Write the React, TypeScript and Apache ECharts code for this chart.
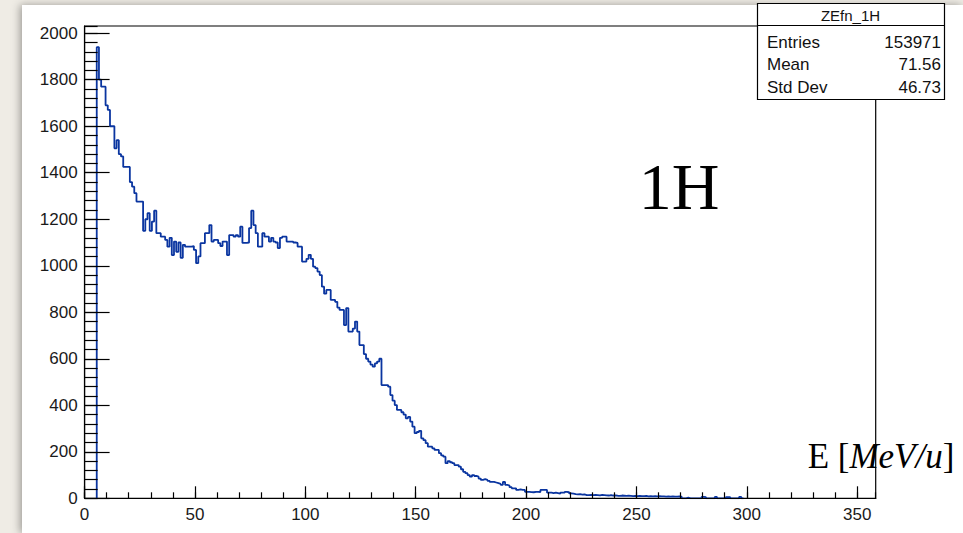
import React, { useEffect, useRef } from "react";
import * as echarts from "echarts";

// Histogram ZEfn_1H: bin counts, bins of width 1 MeV/u starting at 5.5
const binStart = 5.5;
const binWidth = 1;
const counts: number[] = [
  1940, 1800, 1770, 1770, 1690, 1670, 1600, 1600, 1505, 1540, // 5-14
  1480, 1470, 1425, 1425, 1425, 1360, 1340, 1312, 1276, 1276, // 15-24
  1276, 1150, 1200, 1226, 1150, 1190, 1237, 1140, 1140, 1125, // 25-34
  1125, 1111, 1082, 1120, 1046, 1104, 1060, 1100, 1034, 1090, // 35-44
  1082, 1082, 1082, 1085, 1068, 1011, 1040, 1097, 1097, 1140, // 45-54
  1140, 1175, 1104, 1111, 1111, 1097, 1085, 1104, 1104, 1046, // 55-64
  1132, 1132, 1125, 1132, 1125, 1168, 1098, 1098, 1100, 1162, // 65-74
  1237, 1175, 1140, 1082, 1082, 1140, 1125, 1125, 1104, 1120, // 75-84
  1104, 1100, 1076, 1120, 1125, 1125, 1104, 1104, 1104, 1100, // 85-94
  1098, 1082, 1082, 1018, 1018, 1030, 1047, 1030, 996, 990,   // 95-104
  975, 960, 910, 880, 896, 896, 853, 853, 845, 820,           // 105-114
  810, 810, 745, 818, 717, 717, 730, 760, 717, 659,           // 115-124
  659, 620, 600, 588, 575, 566, 580, 588, 600, 487,           // 125-134
  487, 487, 480, 444, 420, 401, 380, 380, 370, 360,           // 135-144
  344, 350, 330, 308, 280, 285, 290, 258, 250, 237,           // 145-154
  222, 222, 215, 208, 208, 194, 185, 179, 151, 160,           // 155-164
  155, 151, 143, 143, 136, 125, 114, 108, 100, 93,            // 165-174
  100, 96, 93, 85, 79, 82, 79, 75, 71, 71,                    // 175-184
  68, 65, 62, 58, 70, 58, 55, 48, 43, 43,                     // 185-194
  36, 38, 36, 36, 28, 28, 27, 26, 28, 28,                     // 195-204
  27, 36, 36, 36, 24, 24, 22, 24, 22, 20,                     // 205-214
  24, 24, 28, 26, 21, 20, 18, 17, 18, 16,                     // 215-224
  17, 14, 14, 15, 14, 15, 14, 13, 15, 14,                     // 225-234
  13, 12, 14, 12, 13, 11, 10, 12, 11, 10,                     // 235-244
  11, 10, 9, 10, 9, 10, 9, 9, 10, 8,                          // 245-254
  9, 8, 9, 8, 9, 8, 8, 7, 8, 7,                               // 255-264
  8, 7, 7, 8, 7, 0, 0, 3, 0, 0,                               // 265-274
  0, 0, 0, 0, 6, 5, 0, 0, 0, 0,                               // 275-284
  6, 0, 0, 0, 0, 5, 5, 0, 0, 0,                               // 285-294
  0, 6, 0,                                                    // 295-297
];

const xTickLabels = [0, 50, 100, 150, 200, 250, 300, 350];
const yTickLabels = [0, 200, 400, 600, 800, 1000, 1200, 1400, 1600, 1800, 2000];

const statsTitle = "ZEfn_1H";
const statsNames = ["Entries", "Mean", "Std Dev"];
const statsValues = ["153971", "71.56", "46.73"];

const xMin = 0;
const xMax = 358.4;
const yMin = 0;
const yMax = 2031;

export default function App() {
  const ref = useRef<HTMLDivElement>(null);

  useEffect(() => {
    if (!ref.current) return;
    const chart = echarts.init(ref.current, undefined, { renderer: "svg" });

    const data: [number, number][] = [];
    data.push([binStart, 0]);
    counts.forEach((c, i) => data.push([binStart + i * binWidth, c]));
    data.push([binStart + counts.length * binWidth, 0]);

    const sans = "'Liberation Sans', Arial, sans-serif";
    const serif = "'Liberation Serif', 'Times New Roman', serif";
    const labelColor = "#1a1a1a";

    const xLabelSet = new Set(xTickLabels);
    const yLabelSet = new Set(yTickLabels);

    const gridLeft = 84.6;
    const gridRight = 87.3;
    const gridTop = 26;
    const gridBottom = 34.7;

    const statsGraphics: any[] = [];
    const boxL = 757, boxR = 944, boxT = 3, boxB = 99, sepY = 25.5;
    statsGraphics.push({
      type: "rect",
      shape: { x: boxL + 0.5, y: boxT + 0.5, width: boxR - boxL, height: boxB - boxT },
      style: { fill: "#fff", stroke: "#000", lineWidth: 1.2 },
      z: 20,
    });
    statsGraphics.push({
      type: "line",
      shape: { x1: boxL, y1: sepY, x2: boxR, y2: sepY },
      style: { stroke: "#000", lineWidth: 1.2 },
      z: 21,
    });
    statsGraphics.push({
      type: "text",
      x: (boxL + boxR) / 2,
      y: 15,
      style: { text: statsTitle, font: `15px ${sans}`, fill: "#111", align: "center", verticalAlign: "middle" },
      z: 22,
    });
    statsNames.forEach((n, i) => {
      const y = 42 + i * 22.5;
      statsGraphics.push({
        type: "text",
        x: 767,
        y,
        style: { text: n, font: `17px ${sans}`, fill: "#111", align: "left", verticalAlign: "middle" },
        z: 22,
      });
      statsGraphics.push({
        type: "text",
        x: 941,
        y,
        style: { text: statsValues[i], font: `17px ${sans}`, fill: "#111", align: "right", verticalAlign: "middle" },
        z: 22,
      });
    });

    chart.setOption({
      animation: false,
      backgroundColor: "#efece5",
      graphic: [
        {
          type: "rect",
          shape: { x: 22, y: 5, width: 963 - 22, height: 533 - 5 },
          style: {
            fill: "#ffffff",
            shadowBlur: 8,
            shadowColor: "rgba(0,0,0,0.35)",
            shadowOffsetX: -2,
            shadowOffsetY: 0,
          },
          z: -10,
          silent: true,
        },
        ...statsGraphics,
        {
          type: "text",
          x: 679,
          y: 186,
          style: { text: "1H", font: `66px ${serif}`, fill: "#000", align: "center", verticalAlign: "middle" },
          z: 22,
        },
        {
          type: "text",
          x: 881,
          y: 456,
          style: {
            text: "{n|E [}{i|MeV}{i|/}{i|u}{n|]}",
            align: "center",
            verticalAlign: "middle",
            fill: "#000",
            rich: {
              n: { fontFamily: serif, fontSize: 35, fill: "#000" },
              i: { fontFamily: serif, fontSize: 35, fontStyle: "italic", fill: "#000" },
            },
          },
          z: 22,
        },
      ],
      grid: {
        left: gridLeft,
        right: gridRight,
        top: gridTop,
        bottom: gridBottom,
        show: true,
        borderColor: "#000",
        borderWidth: 1.2,
        backgroundColor: "transparent",
        z: 1,
      },
      xAxis: [
        {
          type: "value",
          position: "bottom",
          min: xMin,
          max: xMax,
          interval: 50,
          z: 5,
          axisLine: { show: true, onZero: false, lineStyle: { color: "#000", width: 1.2 } },
          axisTick: { show: true, inside: true, length: 12, lineStyle: { color: "#000", width: 1.2 } },
          axisLabel: {
            show: true,
            margin: 8,
            color: labelColor,
            fontFamily: sans,
            fontSize: 17,
            showMaxLabel: false,
            formatter: (v: number) => (xLabelSet.has(v) ? String(v) : ""),
          },
          splitLine: { show: false },
        },
        {
          type: "value",
          position: "bottom",
          min: xMin,
          max: xMax,
          interval: 10,
          z: 5,
          axisLine: { show: false, onZero: false },
          axisTick: { show: true, inside: true, length: 6, lineStyle: { color: "#000", width: 1.2 } },
          axisLabel: { show: false },
          splitLine: { show: false },
        },
      ],
      yAxis: [
        {
          type: "value",
          position: "left",
          min: yMin,
          max: yMax,
          interval: 200,
          z: 5,
          axisLine: { show: true, onZero: false, lineStyle: { color: "#000", width: 1.2 } },
          axisTick: { show: true, inside: true, length: 25, lineStyle: { color: "#000", width: 1.2 } },
          axisLabel: {
            show: true,
            margin: 7,
            color: labelColor,
            fontFamily: sans,
            fontSize: 17,
            showMaxLabel: false,
            formatter: (v: number) => (yLabelSet.has(v) ? String(v) : ""),
          },
          splitLine: { show: false },
        },
        {
          type: "value",
          position: "left",
          min: yMin,
          max: yMax,
          interval: 40,
          z: 5,
          axisLine: { show: false, onZero: false },
          axisTick: { show: true, inside: true, length: 13, lineStyle: { color: "#000", width: 1.2 } },
          axisLabel: { show: false },
          splitLine: { show: false },
        },
      ],
      series: [
        {
          type: "line",
          name: statsTitle,
          xAxisIndex: 0,
          yAxisIndex: 0,
          step: "end",
          showSymbol: false,
          symbol: "none",
          data,
          lineStyle: { color: "#0a35a0", width: 1.8 },
          z: 3,
        },
      ],
    });

    return () => chart.dispose();
  }, []);

  return (
    <div
      ref={ref}
      style={{ position: "fixed", left: 0, top: 0, width: 963, height: 533 }}
    />
  );
}
